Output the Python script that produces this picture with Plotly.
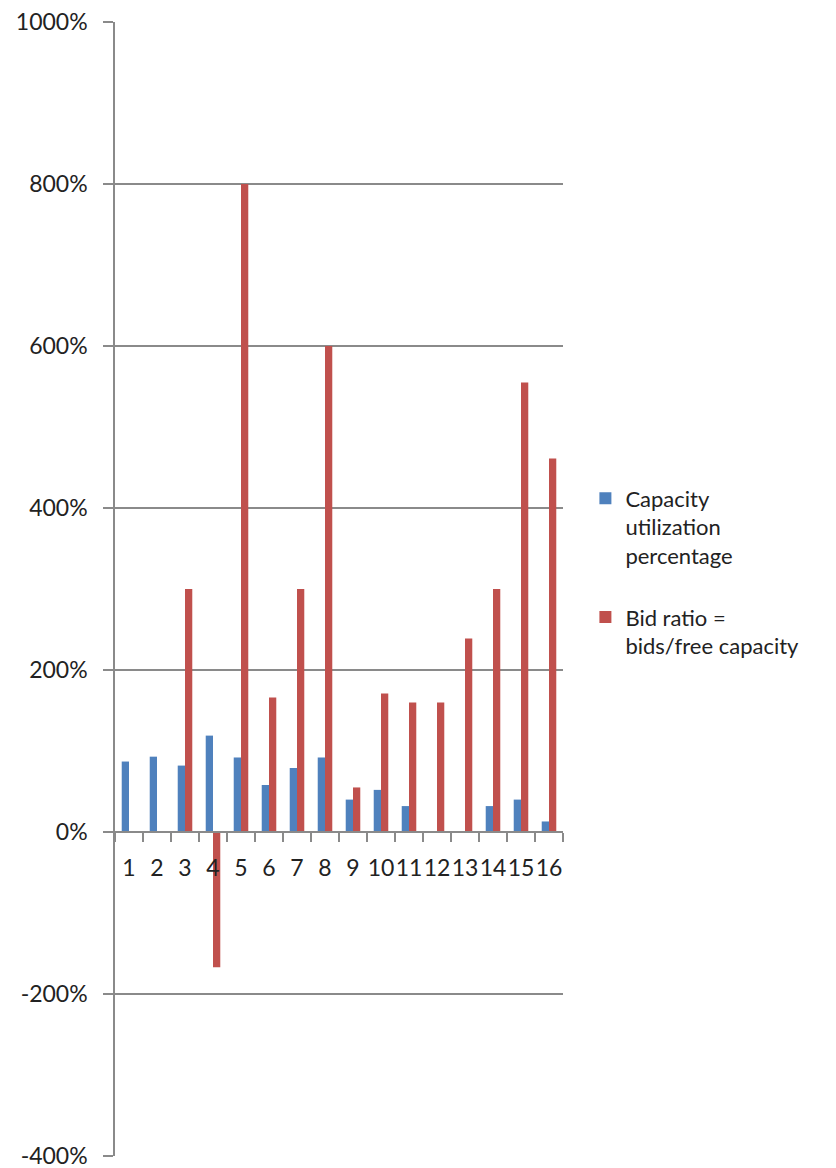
import plotly.graph_objects as go

# Auction rounds 1..16
categories = [str(i) for i in range(1, 17)]

# Values in percent
capacity_utilization = [87, 93, 82, 119, 92, 58, 79, 92, 40, 52, 32, None, None, 32, 40, 13]
bid_ratio = [None, None, 300, -167, 800, 166, 300, 600, 55, 171, 160, 160, 239, 300, 555, 461]

y_ticks = [-400, -200, 0, 200, 400, 600, 800, 1000]

BLUE = "#4F81BD"
RED = "#C0504D"
GRID = "#8A8A8A"
FONT = "Lato, Calibri, Arial, sans-serif"

fig = go.Figure()
fig.add_trace(go.Bar(
    x=categories, y=capacity_utilization,
    name="Capacity<br>utilization<br>percentage",
    legendgroup="util",
    marker=dict(color=BLUE, line=dict(width=0)),
))
fig.add_trace(go.Bar(
    x=categories, y=bid_ratio,
    name="Bid ratio =<br>bids/free capacity",
    legendgroup="bid",
    marker=dict(color=RED, line=dict(width=0)),
))

y_min, y_max = -400, 1000

fig.update_layout(
    width=836, height=1168,
    margin=dict(l=115, r=273, t=22, b=12, autoexpand=False),
    paper_bgcolor="white", plot_bgcolor="white",
    barmode="group", bargap=0.48, bargroupgap=0,
    font=dict(family=FONT, color="#222222"),
    legend=dict(
        x=1.05, y=0.515, xanchor="left", yanchor="middle",
        font=dict(size=22, family=FONT, color="#222222"),
        valign="top",
        tracegroupgap=30, itemwidth=30,
        bgcolor="rgba(0,0,0,0)",
    ),
    xaxis=dict(
        type="category",
        anchor="free",
        position=(0 - y_min) / (y_max - y_min),
        automargin=False,
        showgrid=False,
        showline=True, linecolor=GRID, linewidth=1.5,
        ticks="outside", tickson="boundaries", ticklen=9,
        tickcolor=GRID, tickwidth=1.5,
        tickangle=0,
        tickfont=dict(size=23, family=FONT, color="#222222"),
        ticklabelstandoff=16,
    ),
    yaxis=dict(
        range=[y_min, y_max],
        automargin=False,
        tickvals=y_ticks,
        ticktext=[f"{v}%" for v in y_ticks],
        ticklabeloverflow="allow",
        showgrid=True, gridcolor=GRID, gridwidth=1.5,
        zeroline=True, zerolinecolor=GRID, zerolinewidth=1.5,
        showline=True, linecolor=GRID, linewidth=1.5,
        ticks="outside", ticklen=10, tickcolor=GRID, tickwidth=1.5,
        tickfont=dict(size=23, family=FONT, color="#222222"),
        ticklabelstandoff=11,
    ),
)

fig.write_html("out.html")
